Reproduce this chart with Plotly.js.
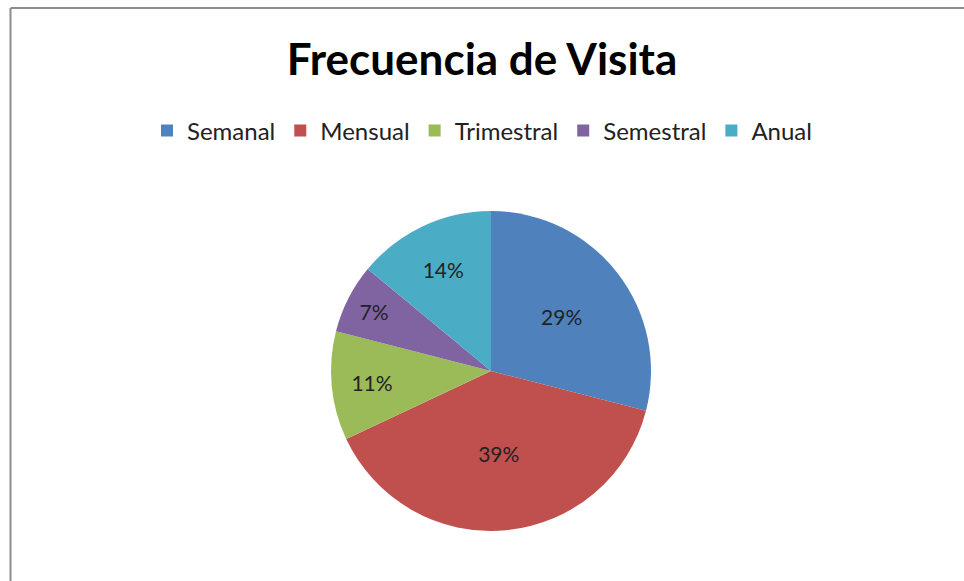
<!DOCTYPE html>
<html>
<head>
<meta charset="utf-8">
<script src="https://cdn.plot.ly/plotly-3.0.1.min.js"></script>
<style>html,body{margin:0;padding:0;background:#fff;}#chart{width:964px;height:581px;}</style>
</head>
<body>
<div id="chart"></div>
<script>
const categories = ["Semanal", "Mensual", "Trimestral", "Semestral", "Anual"];
const values = [29, 39, 11, 7, 14];
const colors = ["#4F81BD", "#C0504D", "#9BBB59", "#8064A2", "#4BACC6"];
const chartTitle = "Frecuencia de Visita";

const W = 964, H = 581;
const trace = {
  type: "pie",
  labels: categories,
  values: values,
  sort: false,
  direction: "clockwise",
  rotation: 0,
  marker: {colors: colors, line: {width: 0}},
  textinfo: "percent",
  textposition: "inside",
  insidetextorientation: "horizontal",
  textfont: {family: "Lato, 'Open Sans', sans-serif", size: 21, color: "#222"},
  hoverinfo: "label+percent",
  domain: {x: [(491 - 160) / W, (491 + 160) / W], y: [1 - 531 / H, 1 - 211 / H]}
};
const layout = {
  width: W, height: H,
  margin: {l: 0, r: 0, t: 0, b: 0},
  paper_bgcolor: "#fff",
  title: {text: "<b>" + chartTitle + "</b>", x: 0.5, xanchor: "center", y: 1 - 60 / H, yanchor: "middle",
          font: {family: "Lato, 'Open Sans', sans-serif", size: 44, color: "#000"}},
  showlegend: true,
  legend: {orientation: "h", x: 0.5, xanchor: "center", y: 1 - 131 / H, yanchor: "middle",
           font: {family: "Lato, 'Open Sans', sans-serif", size: 24, color: "#222"},
           itemwidth: 20, tracegroupgap: 0},
  shapes: [
    {type: "line", xref: "paper", yref: "paper", x0: 10.5 / W, x1: 10.5 / W, y0: 0, y1: 1 - 8 / H, line: {color: "#8c8c8c", width: 2}},
    {type: "line", xref: "paper", yref: "paper", x0: 10.5 / W, x1: 1, y0: 1 - 8 / H, y1: 1 - 8 / H, line: {color: "#8c8c8c", width: 2}}
  ]
};
Plotly.newPlot("chart", [trace], layout, {displayModeBar: false, staticPlot: true});
</script>
</body>
</html>
